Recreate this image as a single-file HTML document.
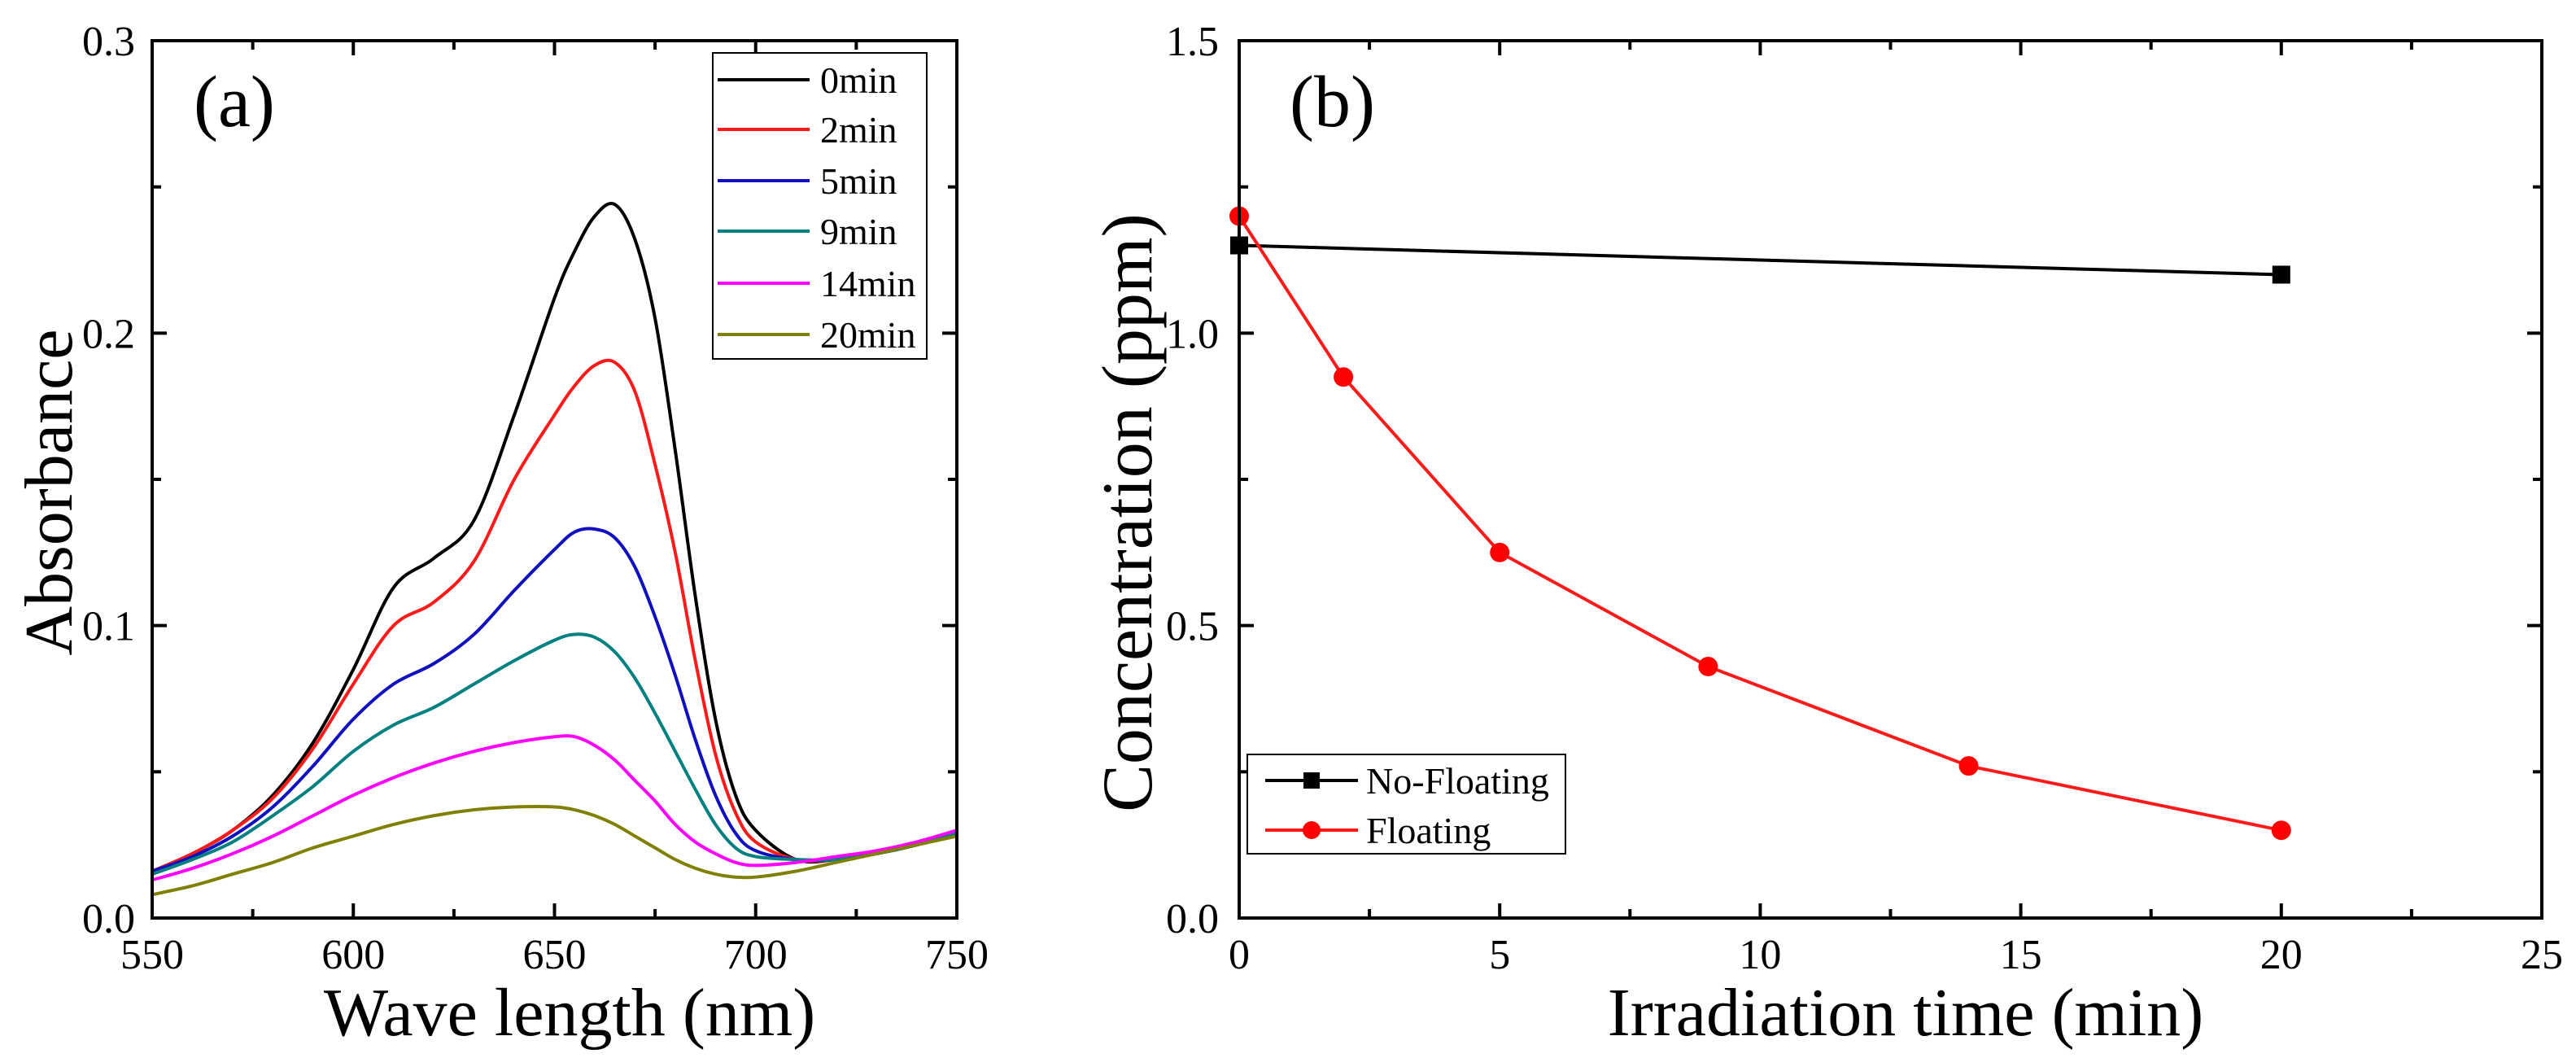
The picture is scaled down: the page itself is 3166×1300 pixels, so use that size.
<!DOCTYPE html>
<html><head><meta charset="utf-8"><style>
html,body{margin:0;padding:0;background:#fff}
svg{display:block}
text{font-family:"Liberation Serif",serif;fill:#000}
</style></head><body>
<svg id="chart" width="3166" height="1300" viewBox="0 0 3166 1300" xmlns="http://www.w3.org/2000/svg">
<g id="pa"></g>
<g id="pb"></g>
</svg>
<script>
// Panel (a) data
const wavelengths = [550,560,570,580,590,600,610,620,630,640,650,655,660,665,670,675,680,685,690,695,700,710,720,730,740,750];
const abs0 = [0.016,0.022,0.030,0.042,0.060,0.085,0.113,0.123,0.136,0.172,0.212,0.228,0.240,0.244,0.232,0.205,0.160,0.110,0.068,0.042,0.030,0.020,0.020,0.022,0.025,0.029];
const abs2 = [0.016,0.022,0.030,0.041,0.058,0.080,0.100,0.108,0.122,0.150,0.172,0.182,0.189,0.190,0.180,0.155,0.125,0.088,0.056,0.036,0.026,0.020,0.020,0.022,0.025,0.029];
const abs5 = [0.016,0.021,0.028,0.038,0.052,0.068,0.080,0.087,0.097,0.112,0.126,0.132,0.133,0.130,0.120,0.103,0.083,0.061,0.042,0.029,0.023,0.020,0.020,0.022,0.025,0.029];
const abs9 = [0.015,0.020,0.026,0.035,0.045,0.057,0.066,0.072,0.080,0.088,0.095,0.097,0.096,0.091,0.082,0.070,0.057,0.044,0.032,0.024,0.021,0.020,0.020,0.022,0.025,0.029];
const abs14 = [0.013,0.017,0.022,0.028,0.035,0.042,0.048,0.053,0.057,0.060,0.062,0.062,0.059,0.054,0.047,0.040,0.032,0.026,0.022,0.019,0.018,0.019,0.021,0.023,0.026,0.030];
const abs20 = [0.008,0.011,0.015,0.019,0.024,0.028,0.032,0.035,0.037,0.038,0.038,0.037,0.035,0.032,0.028,0.024,0.020,0.017,0.015,0.014,0.014,0.016,0.019,0.022,0.025,0.028];
const seriesLabelsA = ["0min","2min","5min","9min","14min","20min"];
const xTicksA = [550,600,650,700,750];
const yTicksA = [0.0,0.1,0.2,0.3];
// Panel (b) data
const timesNoFloat = [0,20];
const concNoFloat = [1.15,1.10];
const timesFloat = [0,2,5,9,14,20];
const concFloat = [1.20,0.925,0.625,0.43,0.26,0.15];
const xTicksB = [0,5,10,15,20,25];
const yTicksB = [0.0,0.5,1.0,1.5];

const NS="http://www.w3.org/2000/svg";
function mk(parent,tag,attrs,txt){const e=document.createElementNS(NS,tag);for(const k in attrs)e.setAttribute(k,attrs[k]);if(txt!==undefined)e.textContent=txt;parent.appendChild(e);return e;}

// ---------- Panel A ----------
const A={l:187,r:1176,t:50,b:1128};
const ax=v=>A.l+(v-550)/200*(A.r-A.l);
const ay=v=>A.b-(v/0.3)*(A.b-A.t);
const pa=document.getElementById('pa');
function smooth(pts){let d=`M${pts[0][0]},${pts[0][1]}`;for(let i=0;i<pts.length-1;i++){const p0=pts[i-1]||pts[i],p1=pts[i],p2=pts[i+1],p3=pts[i+2]||p2;const c1=[p1[0]+(p2[0]-p0[0])/6,p1[1]+(p2[1]-p0[1])/6],c2=[p2[0]-(p3[0]-p1[0])/6,p2[1]-(p3[1]-p1[1])/6];d+=` C${c1[0]},${c1[1]} ${c2[0]},${c2[1]} ${p2[0]},${p2[1]}`;}return d;}
const colsA=["#000000","#ff1a1a","#1010c0","#008080","#ff00ff","#808000"];
const absAll=[abs0,abs2,abs5,abs9,abs14,abs20];
absAll.forEach((arr,i)=>{
  const p=mk(pa,'path',{d:smooth(wavelengths.map((w,j)=>[ax(w),ay(arr[j])])),fill:'none',stroke:colsA[i],'stroke-width':4});
  
  
});
mk(pa,'rect',{x:A.l,y:A.t,width:A.r-A.l,height:A.b-A.t,fill:'none',stroke:'#000','stroke-width':4,});
for(let v=550;v<=750;v+=25){const x=ax(v),len=(v%50===0)?18:11;mk(pa,'line',{x1:x,x2:x,y1:A.b,y2:A.b-len,stroke:'#000','stroke-width':4});mk(pa,'line',{x1:x,x2:x,y1:A.t,y2:A.t+len,stroke:'#000','stroke-width':4});}
for(let k=0;k<=6;k++){const v=k*0.05,y=ay(v),len=(k%2===0)?18:11;mk(pa,'line',{x1:A.l,x2:A.l+len,y1:y,y2:y,stroke:'#000','stroke-width':4});mk(pa,'line',{x1:A.r,x2:A.r-len,y1:y,y2:y,stroke:'#000','stroke-width':4});}
xTicksA.forEach(v=>{const t=mk(pa,'text',{x:ax(v),y:A.b+62,'font-size':52,'text-anchor':'middle'},String(v));});
yTicksA.forEach(v=>{const t=mk(pa,'text',{x:166,y:ay(v)+18,'font-size':52,'text-anchor':'end'},v.toFixed(1));});
mk(pa,'text',{x:700,y:1272,'font-size':84,'text-anchor':'middle',},'Wave length (nm)');
mk(pa,'text',{x:0,y:0,'font-size':84,'text-anchor':'middle',transform:'translate(88,605) rotate(-90)',},'Absorbance');
mk(pa,'text',{x:238,y:155,'font-size':90,},'(a)');
const lgA=mk(pa,'g',{});
mk(lgA,'rect',{x:876,y:65,width:263,height:376,fill:'#fff',stroke:'#000','stroke-width':2});
const lyA=[98,159,222,284,348,411];
seriesLabelsA.forEach((s,i)=>{
  const g=mk(lgA,'g',{});
  
  
  mk(g,'line',{x1:882,x2:995,y1:lyA[i],y2:lyA[i],stroke:colsA[i],'stroke-width':4});
  mk(g,'text',{x:1008,y:lyA[i]+16,'font-size':46},s);
});

// ---------- Panel B ----------
const B={l:1523,r:3124,t:50,b:1128};
const bx=v=>B.l+v/25*(B.r-B.l);
const by=v=>B.b-v/1.5*(B.b-B.t);
const pb=document.getElementById('pb');
mk(pb,'polyline',{points:timesNoFloat.map((t,i)=>bx(t)+','+by(concNoFloat[i])).join(' '),fill:'none',stroke:'#000','stroke-width':4,});
timesNoFloat.forEach((t,i)=>{const r=mk(pb,'rect',{x:bx(t)-11,y:by(concNoFloat[i])-11,width:22,height:22,fill:'#000'});});
mk(pb,'polyline',{points:timesFloat.map((t,i)=>bx(t)+','+by(concFloat[i])).join(' '),fill:'none',stroke:'#ff1a1a','stroke-width':4,});
timesFloat.forEach((t,i)=>{const c=mk(pb,'circle',{cx:bx(t),cy:by(concFloat[i]),r:12,fill:'#ff0000'});});
mk(pb,'rect',{x:B.l,y:B.t,width:B.r-B.l,height:B.b-B.t,fill:'none',stroke:'#000','stroke-width':4,});
for(let k=0;k<=10;k++){const v=k*2.5,x=bx(v),len=(k%2===0)?18:11;mk(pb,'line',{x1:x,x2:x,y1:B.b,y2:B.b-len,stroke:'#000','stroke-width':4});mk(pb,'line',{x1:x,x2:x,y1:B.t,y2:B.t+len,stroke:'#000','stroke-width':4});}
for(let k=0;k<=6;k++){const v=k*0.25,y=by(v),len=(k%2===0)?18:11;mk(pb,'line',{x1:B.l,x2:B.l+len,y1:y,y2:y,stroke:'#000','stroke-width':4});mk(pb,'line',{x1:B.r,x2:B.r-len,y1:y,y2:y,stroke:'#000','stroke-width':4});}
xTicksB.forEach(v=>{const t=mk(pb,'text',{x:bx(v),y:B.b+62,'font-size':52,'text-anchor':'middle'},String(v));});
yTicksB.forEach(v=>{const t=mk(pb,'text',{x:1498,y:by(v)+18,'font-size':52,'text-anchor':'end'},v.toFixed(1));});
mk(pb,'text',{x:2342,y:1272,'font-size':84,'text-anchor':'middle','xml:space':'preserve'},'Irradiation time  (min)');
mk(pb,'text',{x:0,y:0,'font-size':88,'text-anchor':'middle',transform:'translate(1415,630) rotate(-90)',},'Concentration (ppm)');
mk(pb,'text',{x:1585,y:155,'font-size':90,},'(b)');
const lgB=mk(pb,'g',{});
mk(lgB,'rect',{x:1533,y:927,width:391,height:122,fill:'#fff',stroke:'#000','stroke-width':2});
const e1=mk(lgB,'g',{});
mk(e1,'line',{x1:1555,x2:1669,y1:959,y2:959,stroke:'#000','stroke-width':4});
mk(e1,'rect',{x:1602,y:949,width:20,height:20,fill:'#000'});
mk(e1,'text',{x:1679,y:975,'font-size':46},'No-Floating');
const e2=mk(lgB,'g',{});
mk(e2,'line',{x1:1555,x2:1669,y1:1020,y2:1020,stroke:'#ff1a1a','stroke-width':4});
mk(e2,'circle',{cx:1612,cy:1020,r:11,fill:'#ff0000'});
mk(e2,'text',{x:1679,y:1036,'font-size':46},'Floating');
</script>
</body></html>
